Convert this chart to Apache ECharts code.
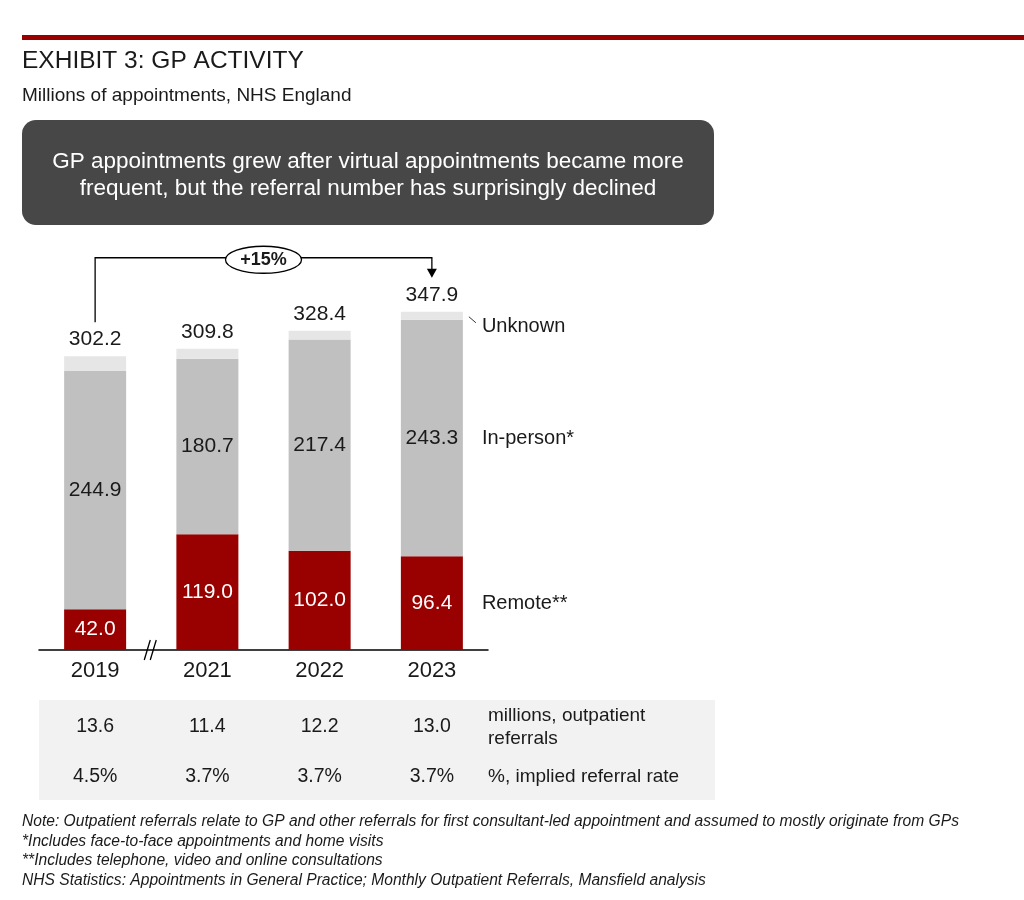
<!DOCTYPE html>
<html>
<head>
    <meta charset="utf-8" />
    <title>Exhibit 3: GP activity</title>
    <script src="https://cdn.jsdelivr.net/npm/echarts@6/dist/echarts.min.js"></script>
    <style>
        html, body { margin: 0; padding: 0; background: #fff; }
    </style>
</head>
<body>
    <div id="main" style="width: 1024px;height:900px;"></div>
    <script type="text/javascript">
        var years = ['2019', '2021', '2022', '2023'];
        var remote = [42.0, 119.0, 102.0, 96.4];
        var inPerson = [244.9, 180.7, 217.4, 243.3];
        var unknown = [15.3, 10.1, 9.0, 8.2];
        var totals = [302.2, 309.8, 328.4, 347.9];
        var referrals = [13.6, 11.4, 12.2, 13.0];
        var referralRate = [4.5, 3.7, 3.7, 3.7];
        var notes = [
            'Note: Outpatient referrals relate to GP and other referrals for first consultant-led appointment and assumed to mostly originate from GPs',
            '*Includes face-to-face appointments and home visits',
            '**Includes telephone, video and online consultations',
            'NHS Statistics: Appointments in General Practice; Monthly Outpatient Referrals, Mansfield analysis'
        ];

        var FONT = '"Liberation Sans", Arial, sans-serif';
        var INK = '#1a1a1a';
        var RED = '#990000';

        var myChart = echarts.init(document.getElementById('main'));

        var option = {
            animation: false,
            textStyle: { fontFamily: FONT },
            grid: { left: 39, width: 449, top: 300, height: 350 },
            xAxis: {
                type: 'category',
                data: years,
                axisLine: { lineStyle: { color: '#000', width: 1.5 } },
                axisTick: { show: false },
                axisLabel: { color: INK, fontSize: 22, margin: 10, fontFamily: FONT }
            },
            yAxis: { type: 'value', min: 0, max: 360, show: false },
            series: [
                {
                    name: 'Remote**', type: 'bar', stack: 'gp', barWidth: 62,
                    data: remote,
                    itemStyle: { color: RED },
                    label: { show: true, position: 'inside', color: '#fff', fontSize: 21,
                        formatter: function (p) { return p.value.toFixed(1); } }
                },
                {
                    name: 'In-person*', type: 'bar', stack: 'gp', barWidth: 62,
                    data: inPerson,
                    itemStyle: { color: '#c0c0c0' },
                    label: { show: true, position: 'inside', color: INK, fontSize: 21,
                        formatter: function (p) { return p.value.toFixed(1); } }
                },
                {
                    name: 'Unknown', type: 'bar', stack: 'gp', barWidth: 62,
                    data: unknown,
                    itemStyle: { color: '#e6e6e6' },
                    label: { show: true, position: 'top', distance: 6, color: INK, fontSize: 21,
                        formatter: function (p) { return totals[p.dataIndex].toFixed(1); } }
                }
            ]
        };
        myChart.setOption(option);

        // positions from the chart's own scales
        function px(i, v) { return myChart.convertToPixel({ gridIndex: 0 }, [i, v]); }
        var last = years.length - 1;
        var x0 = px(0, 0)[0], xN = px(last, 0)[0];
        var top0 = px(0, totals[0])[1], topN = px(last, totals[last])[1];
        var bracketY = topN - 54;
        var growth = Math.round((totals[last] / totals[0] - 1) * 100);
        var baseY = px(0, 0)[1];
        var gapX = (px(0, 0)[0] + px(1, 0)[0]) / 2;
        var barRight = xN + 31;

        var g = [];
        // header
        g.push({ type: 'rect', shape: { x: 22, y: 35, width: 1002, height: 5 }, style: { fill: RED } });
        g.push({ type: 'text', x: 22, y: 61, style: { text: 'EXHIBIT 3: GP ACTIVITY', font: '24.5px ' + FONT, fill: INK, verticalAlign: 'middle' } });
        g.push({ type: 'text', x: 22, y: 95.5, style: { text: 'Millions of appointments, NHS England', font: '19px ' + FONT, fill: INK, verticalAlign: 'middle' } });
        g.push({ type: 'rect', shape: { x: 22, y: 120, width: 692, height: 105, r: 14 }, style: { fill: '#474747' } });
        g.push({ type: 'text', x: 368, y: 175.5, style: {
            text: 'GP appointments grew after virtual appointments became more\nfrequent, but the referral number has surprisingly declined',
            font: '22.5px ' + FONT, fill: '#fff', align: 'center', verticalAlign: 'middle', lineHeight: 27 } });

        // growth bracket
        g.push({ type: 'polyline', shape: { points: [[x0, top0 - 34], [x0, bracketY], [xN, bracketY], [xN, topN - 42]] },
            style: { stroke: '#000', lineWidth: 1.3, fill: null } });
        g.push({ type: 'polygon', shape: { points: [[xN - 5, topN - 43], [xN + 5, topN - 43], [xN, topN - 34]] }, style: { fill: '#000' } });
        g.push({ type: 'ellipse', shape: { cx: (x0 + xN) / 2, cy: bracketY + 2, rx: 38, ry: 13.5 },
            style: { fill: '#fff', stroke: '#000', lineWidth: 1.3 } });
        g.push({ type: 'text', x: (x0 + xN) / 2, y: bracketY + 2, style: { text: '+' + growth + '%', font: 'bold 18px ' + FONT,
            fill: INK, align: 'center', verticalAlign: 'middle' } });

        // axis break
        g.push({ type: 'line', shape: { x1: gapX - 7, y1: baseY + 10, x2: gapX - 1, y2: baseY - 10 }, style: { stroke: '#000', lineWidth: 1.3 } });
        g.push({ type: 'line', shape: { x1: gapX - 1, y1: baseY + 10, x2: gapX + 5, y2: baseY - 10 }, style: { stroke: '#000', lineWidth: 1.3 } });

        // series names on the right of the last bar
        var yUnknown = px(last, remote[last] + inPerson[last] + unknown[last] / 2)[1];
        g.push({ type: 'line', shape: { x1: barRight + 6, y1: yUnknown + 1, x2: barRight + 13, y2: yUnknown + 7 }, style: { stroke: '#333', lineWidth: 1 } });
        g.push({ type: 'text', x: barRight + 19, y: yUnknown + 11, style: { text: 'Unknown', font: '20px ' + FONT, fill: INK, verticalAlign: 'middle' } });
        g.push({ type: 'text', x: barRight + 19, y: px(last, remote[last] + inPerson[last] / 2)[1], style: { text: 'In-person*', font: '20px ' + FONT, fill: INK, verticalAlign: 'middle' } });
        g.push({ type: 'text', x: barRight + 19, y: px(last, remote[last] / 2)[1], style: { text: 'Remote**', font: '20px ' + FONT, fill: INK, verticalAlign: 'middle' } });

        // referral table
        g.push({ type: 'rect', shape: { x: 39, y: 700, width: 676, height: 100 }, style: { fill: '#f2f2f2' } });
        for (var i = 0; i < years.length; i++) {
            var cx = px(i, 0)[0];
            g.push({ type: 'text', x: cx, y: 727, style: { text: referrals[i].toFixed(1), font: '19.5px ' + FONT, fill: INK, align: 'center', verticalAlign: 'middle' } });
            g.push({ type: 'text', x: cx, y: 777, style: { text: referralRate[i].toFixed(1) + '%', font: '19.5px ' + FONT, fill: INK, align: 'center', verticalAlign: 'middle' } });
        }
        g.push({ type: 'text', x: 488, y: 727, style: { text: 'millions, outpatient\nreferrals', font: '19px ' + FONT, fill: INK, verticalAlign: 'middle', lineHeight: 23 } });
        g.push({ type: 'text', x: 488, y: 777, style: { text: '%, implied referral rate', font: '19px ' + FONT, fill: INK, verticalAlign: 'middle' } });

        // footnotes
        for (var k = 0; k < notes.length; k++) {
            g.push({ type: 'text', x: 22, y: 821.5 + k * 19.7, style: { text: notes[k], font: 'italic 15.6px ' + FONT, fill: INK, verticalAlign: 'middle' } });
        }

        myChart.setOption({ graphic: g });
    </script>
</body>
</html>
